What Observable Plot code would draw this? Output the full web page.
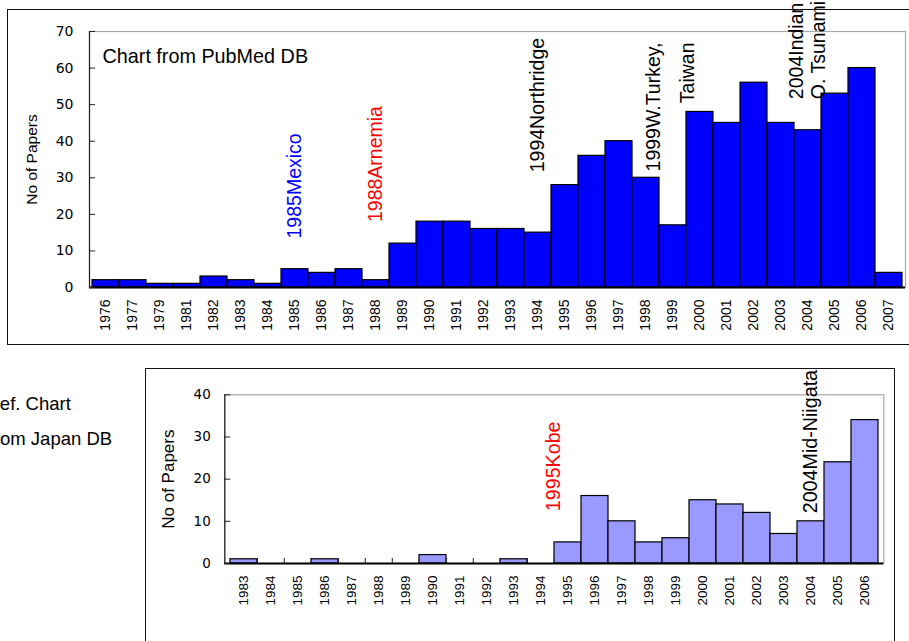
<!DOCTYPE html>
<html><head><meta charset="utf-8">
<script src="https://cdn.jsdelivr.net/npm/d3@7"></script>
<script src="https://cdn.jsdelivr.net/npm/@observablehq/plot@0.6"></script>
<style>
html,body{margin:0;padding:0;background:#fff;width:909px;height:641px;overflow:hidden;position:relative;font-family:"Liberation Sans",Arial,sans-serif;}
.frame{position:absolute;border:1.6px solid #111;box-sizing:border-box;}
#top{position:absolute;left:0;top:0;}
#bottom{position:absolute;left:0;top:360px;}
.side{position:absolute;font-size:18.5px;line-height:1;color:#000;white-space:nowrap;}
svg{overflow:visible;}
</style></head><body>
<div class="frame" style="left:6.5px;top:8.5px;width:930px;height:336.5px;"></div>
<div class="frame" style="left:145px;top:368px;width:750px;height:300px;"></div>
<div id="sideNote"></div>
<div id="top"></div><div id="bottom"></div>
<script>
// ---------- data: PubMed chart ----------
const pubYears = ["1976","1977","1979","1981","1982","1983","1984","1985","1986","1987","1988","1989","1990","1991","1992","1993","1994","1995","1996","1997","1998","1999","2000","2001","2002","2003","2004","2005","2006","2007"];
const pubPapers = [2,2,1,1,3,2,1,5,4,5,2,12,18,18,16,16,15,28,36,40,30,17,48,45,56,45,43,53,60,4];
const pubTicks = [0,10,20,30,40,50,60,70];
const pubCaption = "Chart from PubMed DB";
const pubNotes = ["1985Mexico","1988Arnemia","1994Northridge","1999W.Turkey,\nTaiwan","2004Indian\nO. Tsunami"];
const pubNoteYears = ["1985","1988","1994","1999","2004"];
const pubNoteValues = [13.4, 17.9, 31.5, 67, 51.5];

// ---------- data: Japan DB chart ----------
const jpYears = ["1983","1984","1985","1986","1987","1988","1989","1990","1991","1992","1993","1994","1995","1996","1997","1998","1999","2000","2001","2002","2003","2004","2005","2006"];
const jpPapers = [1,0,0,1,0,0,0,2,0,0,1,0,5,16,10,5,6,15,14,12,7,10,24,34];
const jpTicks = [0,10,20,30,40];
const jpNotes = ["1995Kobe","2004Mid-Niigata"];
const jpNoteYears = ["1995","2004"];
const jpNoteValues = [12.4, 11.9];

const yLabel = "No of Papers";
const sideLines = ["Ref. Chart","from Japan DB"];

// ---------- styles ----------
const FONT = "Liberation Sans, Arial, sans-serif";
const pubNoteStyle = [
  {fill:"#0000ff"},
  {fill:"#ff0000"},
  {fill:"#000"},
  {fill:"#000", textAnchor:"end", lineHeight:1.72, dx:-7},
  {fill:"#000", lineHeight:1.15, dx:-1}
];
const jpNoteStyle = [
  {fill:"#ff0000", dx:-14},
  {fill:"#000"}
];

// side text (partly cut by the left page edge, as in the reference)
const side = document.getElementById("sideNote");
const sidePos = [{left:-13.5, top:394.5},{left:-11.3, top:429.5}];
sideLines.forEach((t,i)=>{
  const d = document.createElement("div");
  d.className = "side"; d.textContent = t;
  d.style.left = sidePos[i].left + "px"; d.style.top = sidePos[i].top + "px";
  side.appendChild(d);
});

function noteMarks(notes, years, values, styles, fontSize) {
  return notes.map((t, i) => Plot.text([{t, year: years[i], v: values[i]}], {
    x: "year", y: "v", text: "t", rotate: -90, textAnchor: "start",
    fontSize, fontFamily: FONT, ...styles[i]
  }));
}

// ---------- top chart ----------
const pub = pubYears.map((year, i) => ({year, papers: pubPapers[i]}));
const topPlot = Plot.plot({
  width: 909, height: 345,
  marginLeft: 89, marginRight: 4, marginTop: 31, marginBottom: 58,
  style: {fontFamily: FONT, background: "transparent", overflow: "visible", color: "#000"},
  x: {type: "band", domain: pubYears, padding: 0, label: null},
  y: {domain: [0, 70], label: null},
  marks: [
    Plot.frame({stroke: "#a8a8a8", strokeWidth: 1.2}),
    Plot.barY(pub, {x: "year", y: "papers", fill: "#0000ff", stroke: "#000", strokeWidth: 1.2}),
    Plot.ruleY([0], {stroke: "#000", strokeWidth: 2}),
    Plot.frame({anchor: "left", stroke: "#222", strokeWidth: 1.2}),
    Plot.axisY({ticks: pubTicks, tickSize: 0, tickPadding: 16, fontSize: 14, fontFamily: "DejaVu Sans", label: null}),
    Plot.axisY({ticks: pubTicks, tickSize: 6, dx: 6, tickFormat: () => "", label: null, stroke: "#222"}),
    Plot.axisX({tickSize: 0, tickPadding: 12, tickRotate: -90, fontSize: 14, fontFamily: FONT, label: null}),
    Plot.text([yLabel], {frameAnchor: "left", textAnchor: "middle", lineAnchor: "middle", rotate: -90, dx: -57, fontSize: 15.5, fontFamily: FONT}),
    Plot.text([pubCaption], {frameAnchor: "top-left", textAnchor: "start", lineAnchor: "top", dx: 13, dy: 17, fontSize: 19.8, fontFamily: FONT}),
    ...noteMarks(pubNotes, pubNoteYears, pubNoteValues, pubNoteStyle, 19.5)
  ]
});
document.getElementById("top").appendChild(topPlot);

// ---------- bottom chart ----------
const jp = jpYears.map((year, i) => ({year, papers: jpPapers[i]}));
const jpML = 224.3, jpMR = 25.7, jpW = 909;
const jpBand = (jpW - jpML - jpMR) / jpYears.length;
const bottomPlot = Plot.plot({
  width: jpW, height: 281,
  marginLeft: jpML, marginRight: jpMR, marginTop: 34.3, marginBottom: 78,
  style: {fontFamily: FONT, background: "transparent", overflow: "visible", color: "#000"},
  x: {type: "band", domain: jpYears, padding: 0, label: null},
  y: {domain: [0, 40], label: null},
  marks: [
    Plot.frame({stroke: "#a8a8a8", strokeWidth: 1.2}),
    Plot.ruleX(jpYears, {x: d => d, y1: 0, y2: 1.2, dx: -jpBand / 2, stroke: "#222"}),
    Plot.barY(jp.filter(d => d.papers > 0), {x: "year", y: "papers", fill: "#9999ff", stroke: "#000", strokeWidth: 1.2}),
    Plot.ruleY([0], {stroke: "#000", strokeWidth: 2}),
    Plot.frame({anchor: "left", stroke: "#222", strokeWidth: 1.2}),
    Plot.axisY({ticks: jpTicks, tickSize: 0, tickPadding: 14, fontSize: 13.5, fontFamily: "DejaVu Sans", label: null}),
    Plot.axisY({ticks: jpTicks, tickSize: 6, dx: 6, tickFormat: () => "", label: null, stroke: "#222"}),
    Plot.axisX({tickSize: 0, tickPadding: 12, tickRotate: -90, fontSize: 13.5, fontFamily: FONT, label: null}),
    Plot.text([yLabel], {frameAnchor: "left", textAnchor: "middle", lineAnchor: "middle", rotate: -90, dx: -56, fontSize: 17, fontFamily: FONT}),
    ...noteMarks(jpNotes, jpNoteYears, jpNoteValues, jpNoteStyle, 19.7)
  ]
});
document.getElementById("bottom").appendChild(bottomPlot);
</script>
</body></html>
